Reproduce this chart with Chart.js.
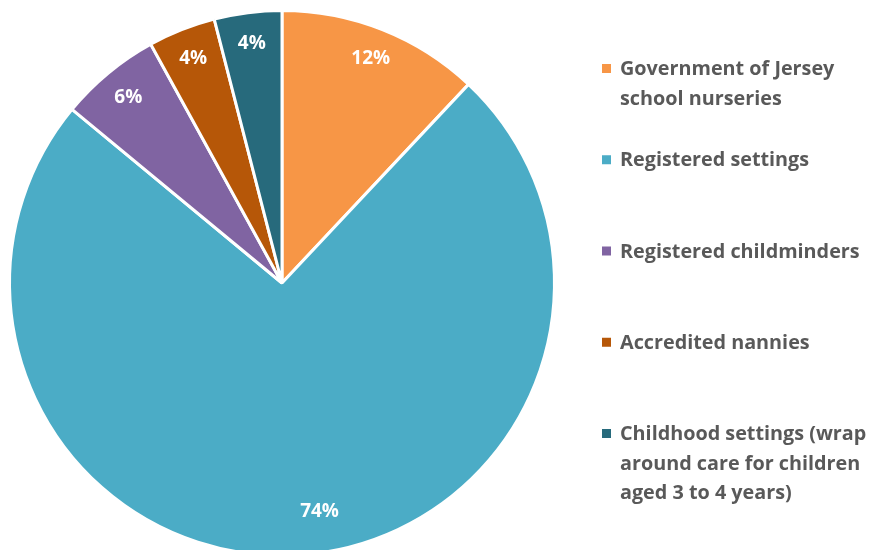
<!DOCTYPE html>
<html>
<head>
<meta charset="utf-8">
<script src="https://cdn.jsdelivr.net/npm/chart.js@4.4.1/dist/chart.umd.min.js"></script>
<style>
  html, body { margin: 0; padding: 0; background: #ffffff; width: 870px; height: 550px; overflow: hidden; }
  #wrap { position: relative; width: 870px; height: 560px; }
</style>
</head>
<body>
<div id="wrap"><canvas id="chart"></canvas></div>
<script>
// Share of places by type of provider
const categories = [
  ['Government of Jersey', 'school nurseries'],
  ['Registered settings'],
  ['Registered childminders'],
  ['Accredited nannies'],
  ['Childhood settings (wrap', 'around care for children', 'aged 3 to 4 years)']
];
const shares = [12, 74, 6, 4, 4];
const sliceColors = ['#F79646', '#4BACC6', '#8064A2', '#B65708', '#276A7C'];

const FONT = '"Open Sans", "Noto Sans", "Liberation Sans", sans-serif';

// White percentage labels inside each slice, near the rim
const sliceLabels = {
  id: 'sliceLabels',
  afterDatasetsDraw(chart) {
    const ctx = chart.ctx;
    const meta = chart.getDatasetMeta(0);
    ctx.save();
    ctx.fillStyle = '#ffffff';
    ctx.font = 'bold 19px ' + FONT;
    ctx.textAlign = 'center';
    ctx.textBaseline = 'middle';
    meta.data.forEach((arc, i) => {
      const p = arc.getProps(['x', 'y', 'startAngle', 'endAngle', 'outerRadius'], true);
      let mid = (p.startAngle + p.endAngle) / 2;
      let r = p.outerRadius * 0.885;
      if (p.endAngle - p.startAngle > Math.PI) { mid -= 0.1; r = p.outerRadius * 0.85; }
      const x = p.x + Math.cos(mid) * r;
      const y = p.y + Math.sin(mid) * r;
      ctx.fillText(shares[i] + '%', x, y);
    });
    ctx.restore();
  }
};

// Legend on the right: square marker plus wrapped category text
const sideLegend = {
  id: 'sideLegend',
  afterDraw(chart) {
    const ctx = chart.ctx;
    const labels = chart.data.labels;
    const colors = chart.data.datasets[0].backgroundColor;
    ctx.save();
    ctx.font = 'bold 19.8px ' + FONT;
    ctx.textAlign = 'left';
    ctx.textBaseline = 'middle';
    const top = 68.5, step = 91.25, lineH = 29.5;
    labels.forEach((lines, i) => {
      const cy = top + i * step;
      ctx.fillStyle = colors[i];
      ctx.fillRect(602, cy - 4.5, 9, 9);
      ctx.fillStyle = '#595959';
      lines.forEach((t, k) => ctx.fillText(t, 620, cy + 1 + k * lineH));
    });
    ctx.restore();
  }
};

new Chart(document.getElementById('chart'), {
  type: 'pie',
  data: {
    labels: categories,
    datasets: [{
      data: shares,
      backgroundColor: sliceColors,
      borderColor: '#ffffff',
      borderWidth: 3
    }]
  },
  options: {
    responsive: true,
    maintainAspectRatio: false,
    animation: false,
    layout: { padding: { left: 8, top: 9, right: 314, bottom: 3 } },
    plugins: {
      legend: { display: false },
      tooltip: { enabled: false }
    }
  },
  plugins: [sliceLabels, sideLegend]
});
</script>
</body>
</html>
